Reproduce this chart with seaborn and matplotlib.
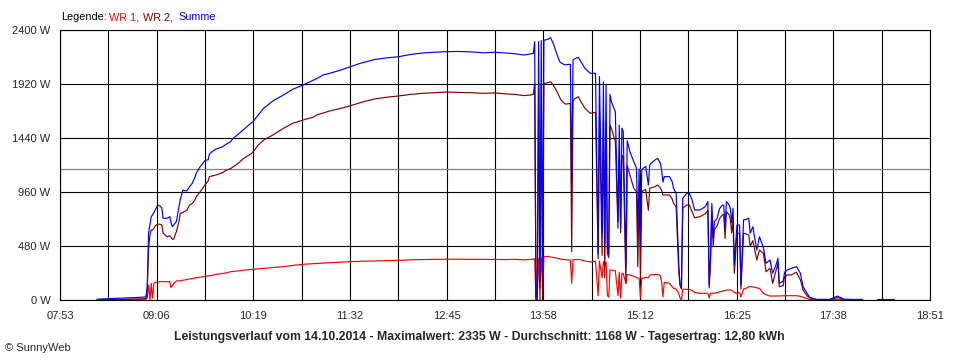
import pandas as pd
import matplotlib
matplotlib.use("Agg")
import matplotlib.pyplot as plt
import seaborn as sns

# Leistungsverlauf 14.10.2014 (in W)
times = [
    "08:21", "08:51", "08:58", "08:59", "09:00", "09:01", "09:02", "09:03", "09:04", "09:05",
    "09:07", "09:09", "09:10", "09:11", "09:14", "09:16", "09:17", "09:18", "09:19", "09:21",
    "09:23", "09:24", "09:26", "09:27", "09:29", "09:31", "09:33", "09:35", "09:36", "09:39",
    "09:43", "09:45", "09:46", "09:48", "09:51", "09:56", "09:59", "10:02", "10:04", "10:07",
    "10:12", "10:13", "10:18", "10:19", "10:23", "10:27", "10:34", "10:42", "10:49", "10:57",
    "11:05", "11:07", "11:12", "11:17", "11:25", "11:32", "11:41", "11:51", "12:00", "12:09",
    "12:18", "12:27", "12:36", "12:45", "12:55", "13:04", "13:13", "13:22", "13:30", "13:37",
    "13:44", "13:49", "13:51", "13:52", "13:53", "13:54", "13:55", "13:56", "13:57", "13:58",
    "13:59", "14:00", "14:02", "14:04", "14:06", "14:09", "14:11", "14:12", "14:15", "14:16",
    "14:19", "14:20", "14:21", "14:22", "14:25", "14:27", "14:30", "14:34", "14:38", "14:40",
    "14:41", "14:43", "14:44", "14:45", "14:46", "14:47", "14:48", "14:49", "14:50", "14:53",
    "14:55", "14:56", "14:57", "14:58", "14:59", "15:01", "15:02", "15:04", "15:07", "15:09",
    "15:10", "15:11", "15:12", "15:13", "15:14", "15:16", "15:18", "15:19", "15:20", "15:23",
    "15:25", "15:27", "15:28", "15:29", "15:30", "15:32", "15:34", "15:36", "15:37", "15:39",
    "15:41", "15:42", "15:43", "15:44", "15:47", "15:49", "15:51", "15:53", "15:57", "16:01",
    "16:03", "16:04", "16:05", "16:06", "16:07", "16:08", "16:10", "16:11", "16:12", "16:14",
    "16:15", "16:16", "16:17", "16:19", "16:20", "16:21", "16:22", "16:23", "16:25", "16:27",
    "16:28", "16:30", "16:32", "16:34", "16:35", "16:37", "16:40", "16:42", "16:45", "16:47",
    "16:50", "16:52", "16:55", "16:56", "16:57", "17:00", "17:01", "17:03", "17:06", "17:10",
    "17:13", "17:15", "17:18", "17:20", "17:25", "17:35", "17:41", "17:46", "17:53", "18:00",
]
wr1 = [
    5, 10, 10, 20, 136, 0, 151, 20, 151, 160,
    163, 165, 166, 166, 166, 166, 112, 130, 150, 172,
    172, 175, 178, 180, 185, 190, 193, 198, 201, 205,
    212, 216, 218, 222, 231, 238, 243, 254, 257, 260,
    268, 270, 274, 275, 280, 284, 291, 299, 310, 320,
    326, 328, 331, 334, 338, 343, 347, 350, 353, 355,
    360, 362, 364, 365, 365, 364, 364, 363, 362, 364,
    360, 364, 364, 370, 0, 50, 370, 100, 380, 150,
    388, 388, 390, 385, 380, 375, 370, 365, 362, 360,
    357, 151, 360, 362, 362, 360, 350, 340, 348, 41,
    350, 200, 345, 300, 340, 41, 30, 269, 269, 262,
    41, 250, 20, 240, 235, 151, 230, 225, 215, 200,
    200, 195, 20, 195, 195, 205, 200, 225, 225, 230,
    230, 220, 166, 30, 160, 155, 151, 120, 107, 100,
    60, 20, 0, 98, 98, 95, 90, 70, 62, 62,
    62, 20, 62, 62, 62, 62, 70, 72, 77, 80,
    85, 85, 92, 92, 92, 90, 80, 70, 62, 70,
    30, 100, 107, 121, 121, 121, 110, 107, 62, 50,
    38, 38, 38, 40, 38, 40, 41, 41, 41, 41,
    35, 27, 15, 7, 2, 2, 8, 3, 2, 0,
]
wr2 = [
    5, 10, 15, 100, 462, 580, 625, 625, 640, 660,
    678, 675, 669, 596, 565, 574, 560, 542, 545, 610,
    700, 773, 780, 788, 800, 847, 860, 892, 920, 965,
    1031, 1060, 1099, 1105, 1114, 1135, 1158, 1170, 1188, 1210,
    1262, 1270, 1306, 1320, 1380, 1425, 1469, 1529, 1573, 1603,
    1630, 1647, 1665, 1683, 1705, 1727, 1760, 1790, 1805, 1816,
    1830, 1840, 1845, 1851, 1848, 1845, 1840, 1843, 1835, 1830,
    1820, 1825, 1830, 1929, 0, 0, 1929, 0, 1930, 0,
    1929, 1929, 1935, 1943, 1914, 1854, 1800, 1780, 1745, 1745,
    1750, 432, 1770, 1789, 1810, 1765, 1707, 1662, 1671, 370,
    1647, 400, 1600, 200, 1580, 420, 380, 1558, 1530, 1410,
    640, 1321, 600, 1290, 1262, 150, 1200, 1114, 996, 965,
    300, 960, 200, 951, 975, 985, 800, 995, 1000, 1010,
    1025, 1000, 980, 936, 936, 936, 936, 900, 862, 832,
    250, 130, 100, 820, 847, 847, 788, 734, 743, 770,
    800, 110, 340, 790, 480, 630, 660, 700, 729, 760,
    760, 550, 788, 760, 720, 600, 720, 240, 596, 596,
    100, 596, 590, 580, 480, 530, 358, 447, 418, 254,
    284, 151, 284, 330, 121, 130, 210, 225, 225, 250,
    180, 92, 40, 22, 3, 3, 25, 5, 3, 0,
]
summe = [
    10, 25, 30, 120, 600, 669, 743, 760, 780, 803,
    847, 835, 818, 729, 729, 743, 690, 654, 670, 699,
    832, 900, 980, 974, 974, 1010, 1040, 1090, 1129, 1188,
    1247, 1247, 1300, 1321, 1345, 1365, 1390, 1410, 1440, 1469,
    1520, 1529, 1580, 1588, 1647, 1707, 1772, 1825, 1876, 1914,
    1958, 1970, 2003, 2018, 2045, 2074, 2110, 2140, 2155, 2165,
    2185, 2198, 2205, 2210, 2212, 2208, 2200, 2205, 2198, 2192,
    2180, 2190, 2195, 2299, 20, 60, 2300, 166, 2310, 250,
    2314, 2314, 2320, 2335, 2284, 2180, 2121, 2110, 2092, 2095,
    2098, 1040, 2136, 2145, 2160, 2121, 2062, 2018, 2018, 410,
    1990, 600, 1940, 500, 1914, 460, 410, 1830, 1765, 1676,
    700, 1558, 640, 1530, 1499, 284, 1420, 1321, 1232, 1173,
    610, 1165, 492, 1160, 1173, 1190, 1025, 1200, 1218, 1247,
    1262, 1220, 1158, 1050, 1099, 1099, 1099, 1054, 996, 951,
    314, 136, 107, 907, 951, 951, 892, 803, 803, 832,
    877, 136, 403, 860, 551, 700, 729, 780, 818, 847,
    845, 640, 877, 850, 815, 690, 818, 314, 669, 669,
    136, 714, 720, 729, 596, 654, 447, 565, 470, 329,
    358, 240, 329, 373, 151, 170, 250, 269, 284, 299,
    240, 121, 62, 27, 9, 8, 38, 10, 8, 8,
]

# kurzer Rest am Abend, nur Summe sichtbar
tail_times = ["18:11", "18:24"]
tail_summe = [10, 10]

x_tick_labels = ["07:53", "09:06", "10:19", "11:32", "12:45",
                 "13:58", "15:12", "16:25", "17:38", "18:51"]
y_ticks = [0, 480, 960, 1440, 1920, 2400]
durchschnitt = 1168

series_colors = {"WR 1": "#ff0000", "WR 2": "#800000", "Summe": "#0000ff"}


def to_minutes(hhmm):
    h, m = hhmm.split(":")
    return int(h) * 60 + int(m)


sns.set_style("white")
plt.rcParams["font.family"] = ["Liberation Sans", "DejaVu Sans"]

df = pd.DataFrame({
    "t": [to_minutes(s) for s in times],
    "WR 1": wr1,
    "WR 2": wr2,
    "Summe": summe,
})
long_df = df.melt(id_vars="t", var_name="Reihe", value_name="W")
tail_df = pd.DataFrame({"t": [to_minutes(s) for s in tail_times], "W": tail_summe})

fig = plt.figure(figsize=(9.6, 3.6), dpi=100)
ax = fig.add_axes([60 / 960, 59.7 / 360, 870 / 960, 270 / 360])

sns.lineplot(data=long_df, x="t", y="W", hue="Reihe", palette=series_colors,
             hue_order=["WR 1", "WR 2", "Summe"], estimator=None, sort=False,
             linewidth=0.85, legend=False, ax=ax, zorder=3)
sns.lineplot(data=tail_df, x="t", y="W", color=series_colors["Summe"],
             estimator=None, linewidth=0.85, ax=ax, zorder=3)

# Achsen / Raster
t0 = to_minutes(x_tick_labels[0])
t1 = to_minutes(x_tick_labels[-1])
step = (t1 - t0) / (len(x_tick_labels) - 1)
major = [t0 + i * step for i in range(len(x_tick_labels))]
minor = [t0 + (i + 0.5) * step for i in range(len(x_tick_labels) - 1)]

ax.set_xlim(t0, t1)
ax.set_ylim(0, 2400)
ax.set_xticks(major)
ax.set_xticks(minor, minor=True)
ax.set_xticklabels(x_tick_labels)
ax.set_yticks(y_ticks)
ax.set_yticklabels([f"{v} W" for v in y_ticks])
ax.set_xlabel("")
ax.set_ylabel("")

ax.set_axisbelow(True)
ax.grid(True, which="major", axis="both", color="black", linewidth=0.8)
ax.grid(True, which="minor", axis="x", color="black", linewidth=0.8)
ax.axhline(durchschnitt, color="#808080", linewidth=0.9, zorder=1.5)

ax.tick_params(axis="x", which="both", direction="out", length=4.5, width=0.8,
               color="black", labelsize=8, pad=3)
ax.tick_params(axis="y", length=0, labelsize=8, pad=7)
for sp in ax.spines.values():
    sp.set_color("black")
    sp.set_linewidth(0.8)

# Legende oben links
leg_y = 1 - 17 / 360
fig.text(61 / 960, leg_y, "Legende:", color="black", fontsize=7.8, va="center")
fig.text(109 / 960, leg_y, "WR 1,", color=series_colors["WR 1"], fontsize=7.8, va="center")
fig.text(143 / 960, leg_y, "WR 2,", color=series_colors["WR 2"], fontsize=7.8, va="center")
fig.text(178 / 960, leg_y, "Summe", color=series_colors["Summe"], fontsize=7.8, va="center")

fig.text(0.4995, 1 - 337 / 360,
         "Leistungsverlauf vom 14.10.2014 - Maximalwert: 2335 W - "
         "Durchschnitt: 1168 W - Tagesertrag: 12,80 kWh",
         fontsize=8.8, fontweight="bold", ha="center", va="center")
fig.text(5 / 960, 1 - 348 / 360, "© SunnyWeb", fontsize=8, va="center")

fig.savefig("out.png", dpi=100, facecolor="white")
